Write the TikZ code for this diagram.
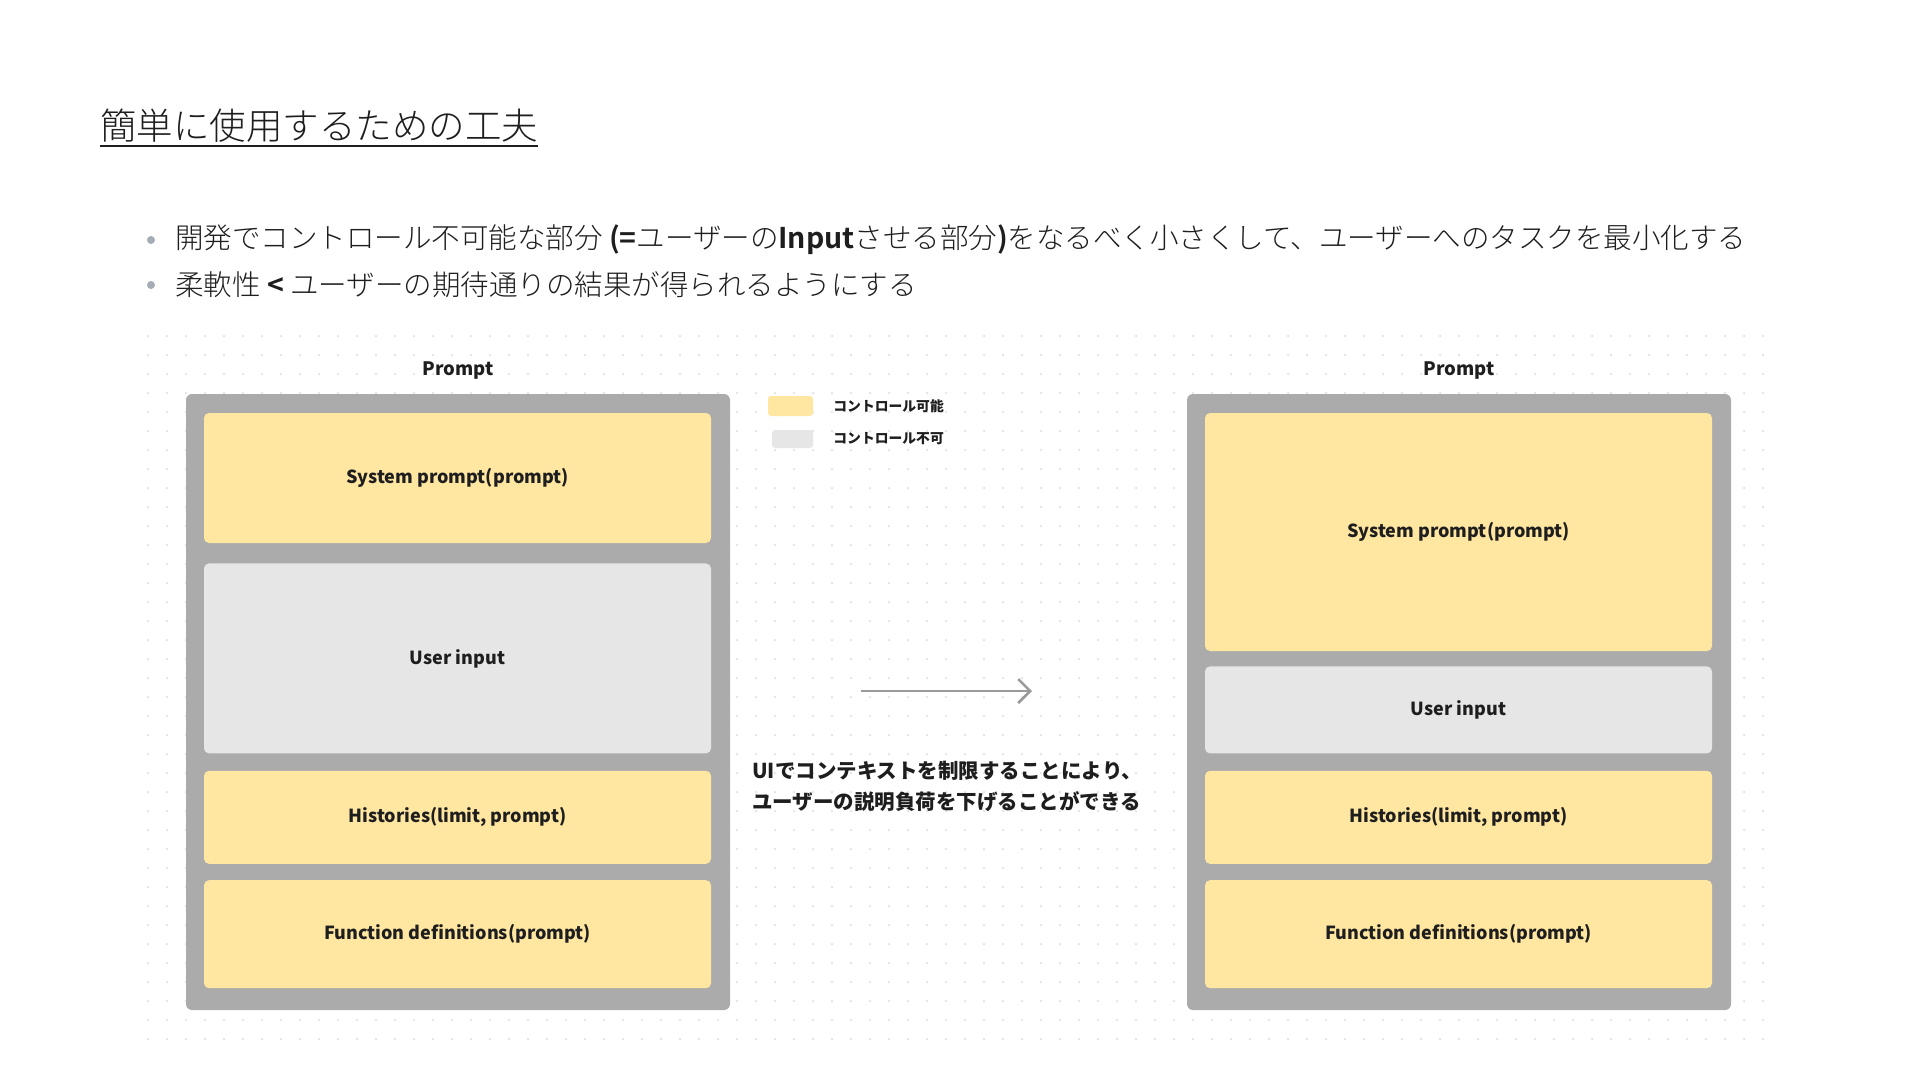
\documentclass[tikz,border=0pt]{standalone}
\usepackage{fontspec}
\setmainfont{Noto Sans CJK JP}
\newfontfamily\lightcjk{Noto Sans CJK JP Light}
\usetikzlibrary{positioning,arrows.meta}

\definecolor{promptgray}{HTML}{ABABAB}
\definecolor{ctrlyellow}{HTML}{FFE6A1}
\definecolor{fixedgray}{HTML}{E6E6E6}
\definecolor{arrowgray}{HTML}{9A9A9A}
\definecolor{bulletgray}{HTML}{A4ADB6}
\definecolor{dotgray}{HTML}{E2E2E2}
\definecolor{inkblack}{HTML}{1E1E1E}

\tikzset{
  promptbox/.style={fill=promptgray, rounded corners=6pt, minimum width=544pt, minimum height=616pt},
  ctrlbox/.style={fill=ctrlyellow, rounded corners=5pt, minimum width=507pt, text=inkblack, font=\fontsize{18}{21}\selectfont\bfseries},
  fixedbox/.style={ctrlbox, fill=fixedgray},
  boxtitle/.style={text=inkblack, font=\fontsize{18.5}{22}\selectfont\bfseries},
  legendtext/.style={anchor=west, text=inkblack, font=\fontsize{13.8}{16}\selectfont\bfseries},
  bullettext/.style={anchor=west, text=inkblack, font=\fontsize{28.5}{34}\lightcjk},
  bulletdot/.style={circle, fill=bulletgray, minimum size=8pt},
  dotrow/.style={dotgray, line width=2.5pt, line cap=round, dash pattern=on 0pt off 19pt}
}

\begin{document}
\begin{tikzpicture}[x=1pt, y=-1pt, inner sep=0pt, node distance=20pt]
  \useasboundingbox[fill=white] (0,0) rectangle (1920,1080);

  % dotted backdrop
  \foreach \y in {336,355,...,1050}
    \draw[dotrow] (148,\y) -- (1765,\y);

  \node (title) [anchor=west, text=inkblack, font=\fontsize{36.5}{40}\lightcjk] at (100,126) {簡単に使用するための工夫};
  \draw[inkblack, line width=2pt] ([yshift=-3pt]title.south west) -- ([yshift=-3pt]title.south east);

  \node (point1) [bullettext] at (175,240) {開発でコントロール不可能な部分 {\bfseries (=}ユーザーの{\bfseries Input}させる部分{\bfseries )}をなるべく小さくして、ユーザーへのタスクを最小化する};
  \node (point2) [bullettext] at (175,285) {柔軟性 {\bfseries <} ユーザーの期待通りの結果が得られるようにする};
  \node (dot1) [bulletdot] at (151,240) {};
  \node (dot2) [bulletdot] at (151,285) {};

  % before
  \node (outerL) [promptbox] at (458,702) {};
  \node (promptL) [boxtitle, above=14pt of outerL] {Prompt};
  \node (sysL) [ctrlbox, minimum height=130pt] at (457.5,478) {System prompt(prompt)};
  \node (userL) [fixedbox, minimum height=190pt, below=20pt of sysL] {User input};
  \node (histL) [ctrlbox, minimum height=93pt, below=17pt of userL] {Histories(limit, prompt)};
  \node (funcL) [ctrlbox, minimum height=108pt, below=16pt of histL] {Function definitions(prompt)};

  % after
  \node (outerR) [promptbox] at (1459,702) {};
  \node (promptR) [boxtitle, above=14pt of outerR] {Prompt};
  \node (sysR) [ctrlbox, minimum height=238pt] at (1458.5,532) {System prompt(prompt)};
  \node (userR) [fixedbox, minimum height=87pt, below=15pt of sysR] {User input};
  \node (histR) [ctrlbox, minimum height=93pt, below=17pt of userR] {Histories(limit, prompt)};
  \node (funcR) [ctrlbox, minimum height=108pt, below=16pt of histR] {Function definitions(prompt)};

  % legend
  \node (keyCtrl) [ctrlbox, minimum width=45pt, minimum height=20pt, rounded corners=3pt] at (790.5,406) {};
  \node (keyCtrlText) [legendtext, right=of keyCtrl] {コントロール可能};
  \node (keyFixed) [fixedbox, minimum width=41pt, minimum height=18pt, rounded corners=3pt] at (792.5,439) {};
  \node (keyFixedText) [legendtext, right=of keyFixed] {コントロール不可};

  \coordinate (arrowFrom) at (861,691);
  \coordinate (arrowTo) at (1032,691);
  \draw[arrowgray, line width=2.5pt, -{Straight Barb[length=12pt, width=24pt]}] (arrowFrom) -- (arrowTo);

  \node (note) [anchor=west, align=left, text=inkblack, font=\fontsize{20.5}{31}\selectfont\bfseries] at (752,786) {UIでコンテキストを制限することにより、\\ユーザーの説明負荷を下げることができる};
\end{tikzpicture}
\end{document}
